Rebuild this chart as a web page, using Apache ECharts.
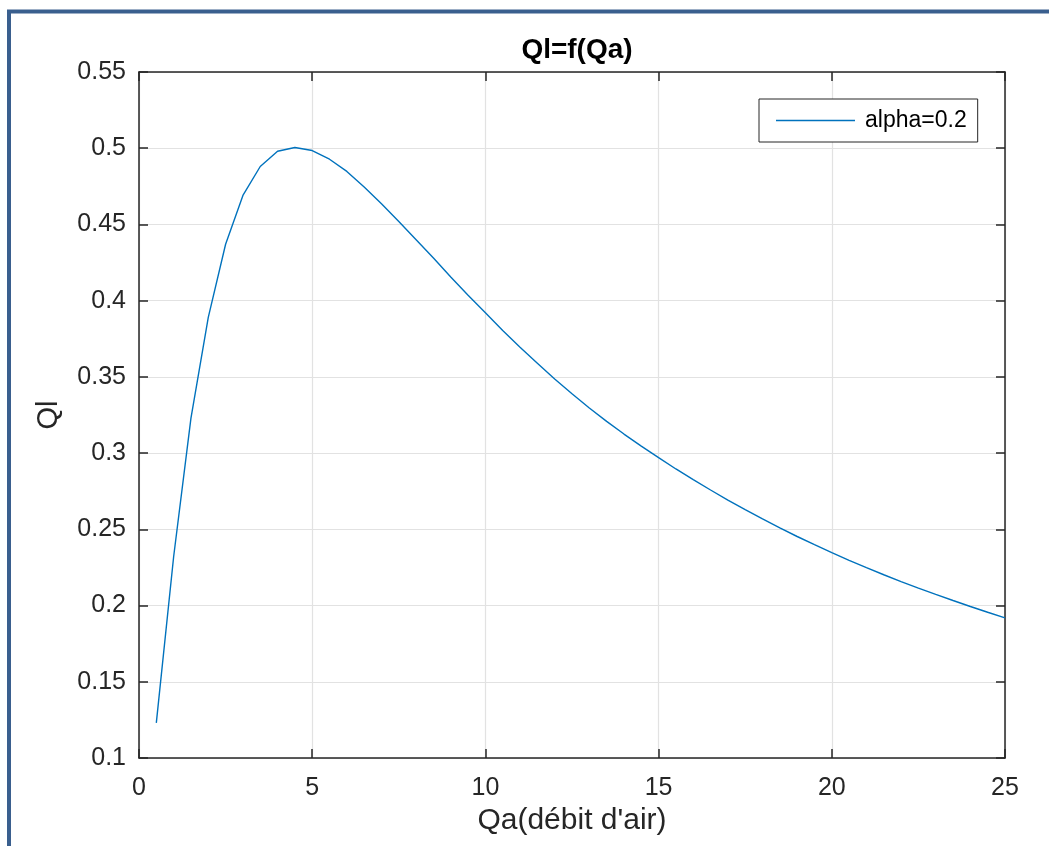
<!DOCTYPE html>
<html><head><meta charset="utf-8">
<script src="https://cdn.jsdelivr.net/npm/echarts@6/dist/echarts.min.js"></script>
<style>html,body{margin:0;padding:0;background:#fff}#c{width:1049px;height:846px}</style>
</head><body><div id="c"></div>
<script>
const chartTitle = 'Ql=f(Qa)';
const xName = "Qa(débit d'air)";
const yName = 'Ql';
const seriesName = 'alpha=0.2';
const qa = [0.5,1,1.5,2,2.5,3,3.5,4,4.5,5,5.5,6,6.5,7,7.5,8,8.5,9,9.5,10,10.5,11,11.5,12,12.5,13,13.5,14,14.5,15,15.5,16,16.5,17,17.5,18,18.5,19,19.5,20,20.5,21,21.5,22,22.5,23,23.5,24,24.5,25];
const ql = [0.123,0.232,0.323,0.389,0.437,0.469,0.488,0.498,0.5005,0.4985,0.4928,0.4848,0.4745,0.4635,0.452,0.440,0.428,0.4155,0.4035,0.392,0.3805,0.3695,0.359,0.3486,0.3389,0.3296,0.3208,0.3125,0.3046,0.297,0.2896,0.2826,0.2758,0.2692,0.2629,0.2568,0.2509,0.2453,0.2399,0.2347,0.2297,0.2249,0.2202,0.2157,0.2114,0.2073,0.2033,0.1994,0.1956,0.1919];

const FONT = "'Liberation Sans', Arial, Helvetica, sans-serif";
const AX = '#262626';
const chart = echarts.init(document.getElementById('c'), null, {renderer:'canvas'});
const axisLine = {show:true, onZero:false, lineStyle:{color:AX, width:1.5}};
const axisTick = {show:true, inside:true, length:9, lineStyle:{color:AX, width:1.5}};
const grid = {show:true, lineStyle:{color:'#e2e2e2', width:1.2}};
chart.setOption({
  animation:false,
  backgroundColor:'#fff',
  textStyle:{fontFamily:FONT},
  title:{text:chartTitle, left:572, top:31, textAlign:'center',
    textStyle:{fontFamily:FONT, fontWeight:'bold', fontSize:28, color:'#000'}},
  grid:{left:139, right:44, top:72, bottom:88},
  legend:{show:true, left:759, top:99, orient:'horizontal',
    padding:[10,11,10,17], itemWidth:79, itemHeight:1.5, icon:'rect',
    borderColor:AX, borderWidth:1, backgroundColor:'#fff',
    textStyle:{fontFamily:FONT, fontSize:23, color:'#000', padding:[0,0,0,5]}},
  xAxis:[
    {type:'value', position:'bottom', min:0, max:25, interval:5,
     axisLine, axisTick, splitLine:grid,
     axisLabel:{color:AX, fontSize:25, margin:18, fontFamily:FONT},
     name:xName, nameLocation:'middle', nameGap:45,
     nameTextStyle:{color:AX, fontSize:30, fontFamily:FONT}},
    {type:'value', position:'top', min:0, max:25, interval:5,
     axisLine, axisTick, splitLine:{show:false}, axisLabel:{show:false}}
  ],
  yAxis:[
    {type:'value', position:'left', min:0.1, max:0.55, interval:0.05,
     axisLine, axisTick, splitLine:grid,
     axisLabel:{color:AX, fontSize:25, margin:13, fontFamily:FONT},
     name:yName, nameLocation:'middle', nameGap:76,
     nameTextStyle:{color:AX, fontSize:29, fontFamily:FONT}},
    {type:'value', position:'right', min:0.1, max:0.55, interval:0.05,
     axisLine, axisTick, splitLine:{show:false}, axisLabel:{show:false}}
  ],
  graphic:[{type:'rect', silent:true, z:-10,
    shape:{x:9, y:11.5, width:1100, height:900},
    style:{fill:'none', stroke:'#3a5f8e', lineWidth:4}}],
  series:[{type:'line', name:seriesName, xAxisIndex:0, yAxisIndex:0,
    data: qa.map((x,i)=>[x, ql[i]]),
    symbol:'none', showSymbol:false, smooth:false,
    lineStyle:{color:'#0072BD', width:1.4}, itemStyle:{color:'#0072BD'}}]
});
</script></body></html>
